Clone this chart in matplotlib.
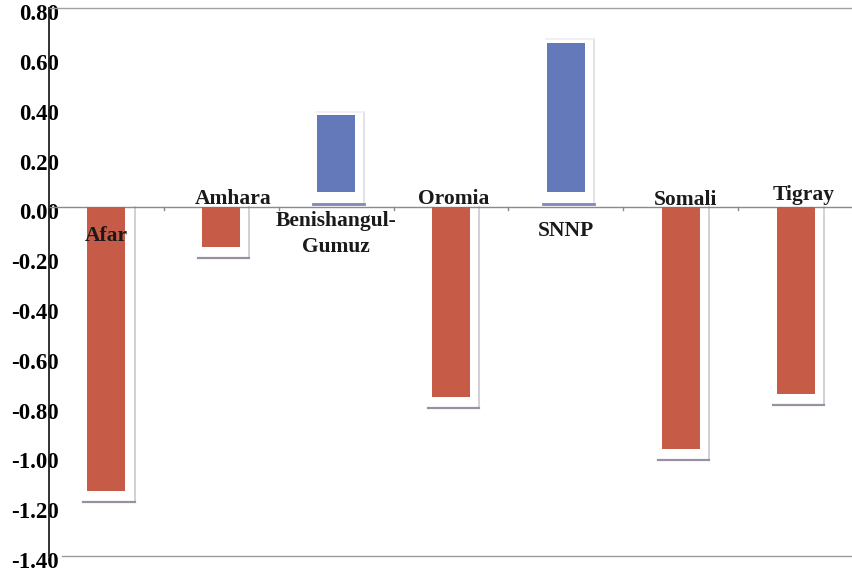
import matplotlib.pyplot as plt
import matplotlib.transforms as mtransforms

regions = ["Afar", "Amhara", "Benishangul-\nGumuz", "Oromia", "SNNP", "Somali", "Tigray"]
values = [-1.14, -0.16, 0.37, -0.76, 0.66, -0.97, -0.75]
yticks = [0.8, 0.6, 0.4, 0.2, 0.0, -0.2, -0.4, -0.6, -0.8, -1.0, -1.2, -1.4]

red = "#c65c48"
blue = "#6479b9"

fig = plt.figure(figsize=(8.53, 5.73), dpi=100)
ax = fig.add_axes([0.0574, 0.0297, 0.9426, 0.956])

x = list(range(len(regions)))
w = 0.33
colors = [blue if v > 0 else red for v in values]

# shadow edges behind each bar (scanned 3D look)
for xi, v in zip(x, values):
    left, right = xi - w / 2 - 0.035, xi + w / 2 + 0.08
    if v < 0:
        ax.plot([right, right], [0, v - 0.045], color="#c8c8d0", lw=1.2, zorder=1)
        ax.plot([left, right], [v - 0.045, v - 0.045], color="#9a90a0", lw=1.6, zorder=1)
    else:
        ax.plot([right, right], [0.015, v + 0.015], color="#e2e2e8", lw=1.4, zorder=1)
        ax.plot([left + 0.03, right], [v + 0.015, v + 0.015], color="#eeeef2", lw=1.2, zorder=1)
        ax.plot([left, right], [0.015, 0.015], color="#8088b8", lw=2, zorder=2)

ax.bar(x, [v if v < 0 else v - 0.06 for v in values],
       bottom=[0 if v < 0 else 0.06 for v in values],
       width=w, color=colors, zorder=3)

# category labels around the zero line
label_x = [0.0, 0.1, 0.0, 0.02, 0.0, 0.04, 0.07]
label_y = [-0.115, 0.035, -0.105, 0.035, -0.095, 0.03, 0.05]
for xi, name, dx, ly in zip(x, regions, label_x, label_y):
    ax.text(xi + dx, ly, name, ha="center", va="center", fontsize=15.5,
            fontweight="bold", family="Liberation Serif", color="#1a1a1a",
            zorder=4, linespacing=1.4)

ax.axhline(0, color="#8a8a8a", lw=1, zorder=2)
ax.axhline(-1.4, xmin=0.016, color="#9a9a9a", lw=1, zorder=2, clip_on=False)
ax.axhline(0.8, color="#a0a0a0", lw=1, zorder=2, clip_on=False)
# small tick marks on the zero line between categories
for b in [0.5, 1.5, 2.5, 3.5, 4.5, 5.5]:
    ax.plot([b, b], [0, -0.012], color="#8a8a8a", lw=1, zorder=2)

ax.set_xlim(-0.5, 6.5)
ax.set_ylim(-1.4, 0.8)
ax.set_xticks([])
ax.set_yticks(yticks)
ax.set_yticklabels([f"{t:.2f}" for t in yticks], family="Liberation Serif",
                   fontweight="bold", fontsize=16.5)
ax.tick_params(axis="y", length=0, pad=-7)
shift = mtransforms.ScaledTranslation(0, -4 / 100, fig.dpi_scale_trans)
for lab in ax.get_yticklabels():
    lab.set_zorder(5)
    lab.set_transform(lab.get_transform() + shift)
for s in ["top", "right", "bottom"]:
    ax.spines[s].set_visible(False)
ax.spines["left"].set_color("#222222")
ax.spines["left"].set_linewidth(1.3)

fig.savefig("out.png", dpi=100)
